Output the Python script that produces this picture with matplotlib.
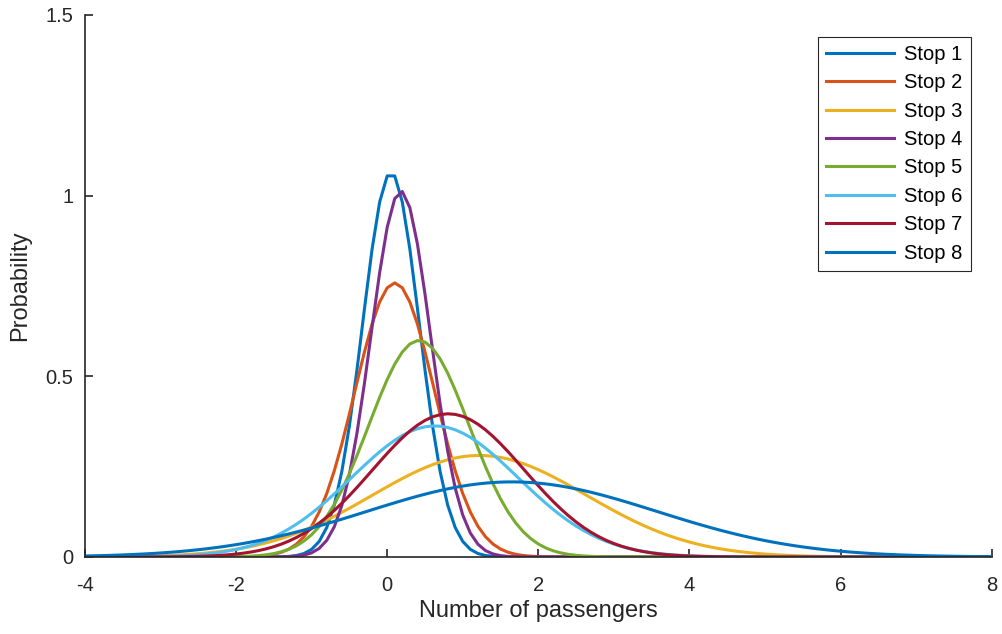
import numpy as np
import matplotlib
matplotlib.use('Agg')
from matplotlib import pyplot as plt

# normal fit per stop: mean and standard deviation of passenger count
stops = ['Stop 1', 'Stop 2', 'Stop 3', 'Stop 4', 'Stop 5', 'Stop 6', 'Stop 7', 'Stop 8']
means = [0.05, 0.10, 1.22, 0.18, 0.42, 0.63, 0.81, 1.65]
sigmas = [0.375, 0.526, 1.42, 0.394, 0.666, 1.10, 1.007, 1.92]
colors = ['#0072BD', '#D95319', '#EDB120', '#7E2F8E', '#77AC30', '#4DBEEE', '#A2142F', '#0072BD']

x_ticks = [-4, -2, 0, 2, 4, 6, 8]
y_ticks = [0, 0.5, 1, 1.5]


def normpdf(x, mu, sigma):
    return np.exp(-0.5 * ((x - mu) / sigma) ** 2) / (sigma * np.sqrt(2 * np.pi))


def main():
    plt.rcParams['font.family'] = ['Liberation Sans', 'DejaVu Sans']
    fig = plt.figure(figsize=(10.03, 6.34), dpi=100)
    ax = fig.add_axes([0.0847, 0.1215, 0.904, 0.855])

    x = np.arange(-4, 8.0001, 0.1)
    for name, mu, s, c in zip(stops, means, sigmas, colors):
        ax.plot(x, normpdf(x, mu, s), color=c, lw=2.2, label=name)

    ax.set_xlim(-4, 8)
    ax.set_ylim(0, 1.5)
    ax.set_xticks(x_ticks)
    ax.set_yticks(y_ticks)
    ax.set_xticklabels([str(t) for t in x_ticks])
    ax.set_yticklabels(['0', '0.5', '1', '1.5'])
    for side in ['top', 'right']:
        ax.spines[side].set_visible(False)
    for side in ['left', 'bottom']:
        ax.spines[side].set_color('#262626')
        ax.spines[side].set_linewidth(1.2)
    ax.tick_params(direction='in', length=6, width=1.2, color='#262626',
                   labelsize=14.5, labelcolor='#262626')
    ax.tick_params(axis='x', pad=14)
    ax.tick_params(axis='y', pad=8.5)
    ax.set_xlabel('Number of passengers', fontsize=17, color='#262626', labelpad=3)
    ax.set_ylabel('Probability', fontsize=17, color='#262626', labelpad=10)

    leg = ax.legend(loc='upper right', bbox_to_anchor=(0.977, 0.96), fontsize=14.5,
                    handlelength=3.4, handletextpad=0.5, labelspacing=0.47,
                    borderpad=0.4, borderaxespad=0, fancybox=False, framealpha=1)
    leg.get_frame().set_edgecolor('#262626')
    leg.get_frame().set_linewidth(0.8)

    fig.savefig('out.png', dpi=100)


if __name__ == '__main__':
    main()
